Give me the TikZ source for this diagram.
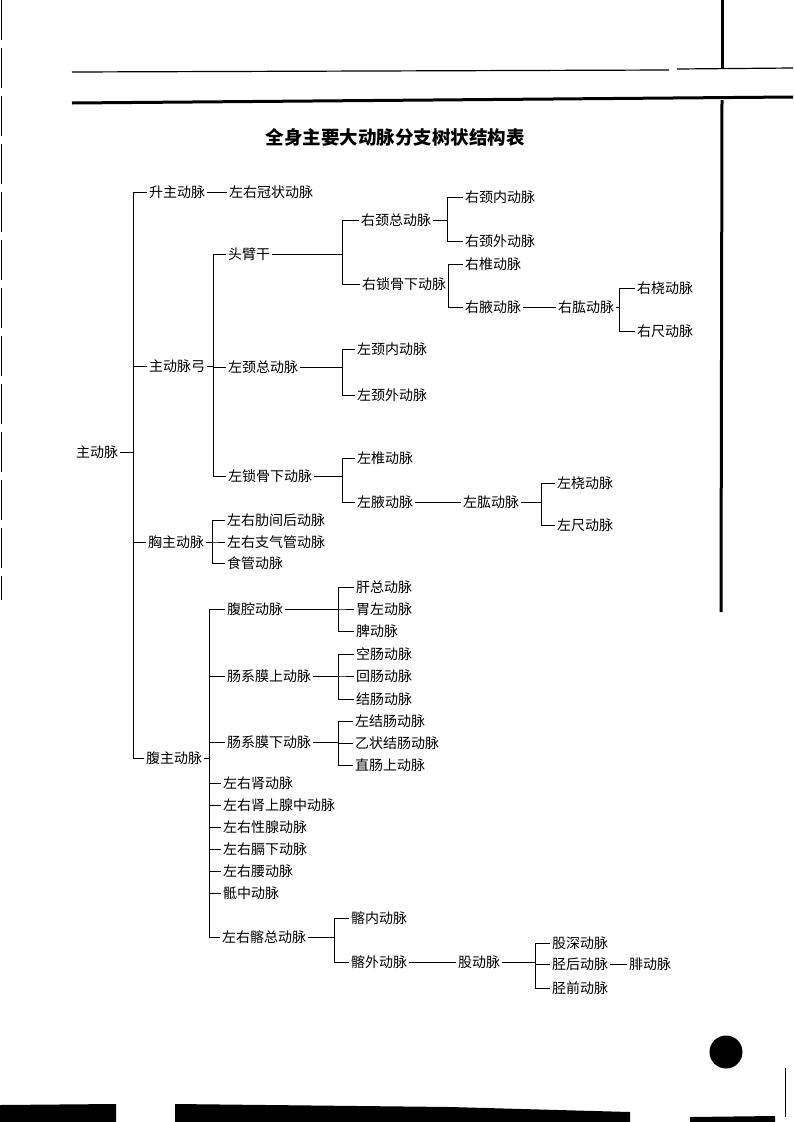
\documentclass[tikz,border=0pt]{standalone}
\usepackage{fontspec}
\newfontfamily\cjk{Noto Sans CJK SC}
\usepackage{tikz}
\usetikzlibrary{calc,positioning}

\begin{document}
\begin{tikzpicture}[x=1pt, y=-1pt,
    lbl/.style={anchor=west, inner sep=2pt, font=\cjk\fontsize{14}{16}\selectfont},
    link/.style={line width=0.8pt},
    heading/.style={font=\cjk\bfseries\fontsize{18.5}{20}\selectfont}
]
    \useasboundingbox (0,0) rectangle (793,1122);
    % Page rules
    \draw[line width=1.2pt] (72,72) -- (669,70);
    \draw[line width=1.2pt] (677,69) -- (793,68);
    \draw[line width=3pt] (72,103) -- (793,97);
    \draw[line width=3pt] (722,0) -- (722,69);
    \draw[line width=3pt] (722,100) -- (721,612);
    \draw[line width=1pt, dash pattern=on 40pt off 8pt] (1.5,0) -- (1.5,600);
    \draw[line width=0.8pt] (785,1068) -- (785,1117);
    \fill (726,1052) circle (16.5);
    \fill (0,1105) -- (116,1104) -- (116,1122) -- (0,1122) -- cycle;
    \fill (175,1104) -- (450,1107) -- (630,1112) -- (630,1122) -- (175,1122) -- cycle;
    \fill (690,1117) -- (775,1116) -- (775,1122) -- (690,1122) -- cycle;
    % Title
    \node[heading] (title) at (395,137) {全身主要大动脉分支树状结构表};
    % Aorta and its four parts
    \node[lbl] (aorta) at (74,452) {主动脉};
    \node[lbl] (asc) at (147,192) {升主动脉};
    \node[lbl] (cor) at (227,192) {左右冠状动脉};
    \node[lbl] (arch) at (147,366) {主动脉弓};
    \node[lbl] (thor) at (146,542) {胸主动脉};
    \node[lbl] (abd) at (144,758) {腹主动脉};
    % Arch
    \node[lbl] (bct) at (226,254) {头臂干};
    \node[lbl] (lcc) at (226,367) {左颈总动脉};
    \node[lbl] (lsub) at (226,476) {左锁骨下动脉};
    \node[lbl] (rcc) at (359,220) {右颈总动脉};
    \node[lbl] (rsub) at (360,284) {右锁骨下动脉};
    \node[lbl] (rica) at (463,197) {右颈内动脉};
    \node[lbl] (reca) at (463,241) {右颈外动脉};
    \node[lbl] (rvert) at (463,264) {右椎动脉};
    \node[lbl] (rax) at (463,307) {右腋动脉};
    \node[lbl] (rbra) at (556,307) {右肱动脉};
    \node[lbl] (rrad) at (635,288) {右桡动脉};
    \node[lbl] (ruln) at (635,331) {右尺动脉};
    \node[lbl] (lica) at (355,349) {左颈内动脉};
    \node[lbl] (leca) at (355,395) {左颈外动脉};
    \node[lbl] (lvert) at (355,458) {左椎动脉};
    \node[lbl] (lax) at (355,502) {左腋动脉};
    \node[lbl] (lbra) at (461,502) {左肱动脉};
    \node[lbl] (lrad) at (555,483) {左桡动脉};
    \node[lbl] (luln) at (555,525) {左尺动脉};
    % Thoracic
    \node[lbl] (icost) at (225,520) {左右肋间后动脉};
    \node[lbl] (bronch) at (225,542) {左右支气管动脉};
    \node[lbl] (esoph) at (225,563) {食管动脉};
    % Abdominal
    \node[lbl] (celiac) at (225,609) {腹腔动脉};
    \node[lbl] (sma) at (225,676) {肠系膜上动脉};
    \node[lbl] (ima) at (225,742) {肠系膜下动脉};
    \node[lbl] (renal) at (221,783) {左右肾动脉};
    \node[lbl] (supra) at (221,805) {左右肾上腺中动脉};
    \node[lbl] (gonad) at (221,827) {左右性腺动脉};
    \node[lbl] (phren) at (221,849) {左右膈下动脉};
    \node[lbl] (lumb) at (221,871) {左右腰动脉};
    \node[lbl] (sacral) at (221,893) {骶中动脉};
    \node[lbl] (cil) at (220,937) {左右髂总动脉};
    \node[lbl] (hep) at (354,587) {肝总动脉};
    \node[lbl] (lgast) at (354,609) {胃左动脉};
    \node[lbl] (splen) at (354,631) {脾动脉};
    \node[lbl] (jej) at (354,654) {空肠动脉};
    \node[lbl] (ile) at (354,676) {回肠动脉};
    \node[lbl] (col) at (354,699) {结肠动脉};
    \node[lbl] (lcol) at (353,721) {左结肠动脉};
    \node[lbl] (sig) at (353,743) {乙状结肠动脉};
    \node[lbl] (rectal) at (353,765) {直肠上动脉};
    \node[lbl] (iia) at (349,918) {髂内动脉};
    \node[lbl] (eia) at (349,962) {髂外动脉};
    \node[lbl] (fem) at (456,962) {股动脉};
    \node[lbl] (dfem) at (550,943) {股深动脉};
    \node[lbl] (ptib) at (550,964) {胫后动脉};
    \node[lbl] (atib) at (550,988) {胫前动脉};
    \node[lbl] (pero) at (627,964) {腓动脉};
    % Bracket columns
    \coordinate (jAo) at (133,0);
    \coordinate (jArch) at (213,0);
    \coordinate (jBct) at (342,0);
    \coordinate (jRcc) at (447,0);
    \coordinate (jRsub) at (448,0);
    \coordinate (jRbra) at (619,0);
    \coordinate (jLcc) at (342,0);
    \coordinate (jLsub) at (342,0);
    \coordinate (jLbra) at (541,0);
    \coordinate (jThor) at (212,0);
    \coordinate (jAbd) at (209,0);
    \coordinate (jCel) at (338,0);
    \coordinate (jSma) at (338,0);
    \coordinate (jIma) at (338,0);
    \coordinate (jCil) at (334,0);
    \coordinate (jFem) at (535,0);
    % Brackets
    \foreach \p/\j/\c in {aorta/jAo/asc, aorta/jAo/arch, aorta/jAo/thor, aorta/jAo/abd,
        arch/jArch/bct, arch/jArch/lcc, arch/jArch/lsub,
        bct/jBct/rcc, bct/jBct/rsub, rcc/jRcc/rica, rcc/jRcc/reca,
        rsub/jRsub/rvert, rsub/jRsub/rax, rbra/jRbra/rrad, rbra/jRbra/ruln,
        lcc/jLcc/lica, lcc/jLcc/leca, lsub/jLsub/lvert, lsub/jLsub/lax,
        lbra/jLbra/lrad, lbra/jLbra/luln,
        thor/jThor/icost, thor/jThor/bronch, thor/jThor/esoph,
        abd/jAbd/celiac, abd/jAbd/sma, abd/jAbd/ima, abd/jAbd/renal, abd/jAbd/supra,
        abd/jAbd/gonad, abd/jAbd/phren, abd/jAbd/lumb, abd/jAbd/sacral, abd/jAbd/cil,
        celiac/jCel/hep, celiac/jCel/lgast, celiac/jCel/splen,
        sma/jSma/jej, sma/jSma/ile, sma/jSma/col,
        ima/jIma/lcol, ima/jIma/sig, ima/jIma/rectal,
        cil/jCil/iia, cil/jCil/eia,
        fem/jFem/dfem, fem/jFem/ptib, fem/jFem/atib} {
        \draw[link] (\p.east) -- (\p.east -| \j) |- (\c.west);
    }
    % Straight links
    \foreach \a/\b in {asc/cor, rax/rbra, lax/lbra, eia/fem, ptib/pero} {
        \draw[link] (\a) -- (\b);
    }
\end{tikzpicture}
\end{document}
